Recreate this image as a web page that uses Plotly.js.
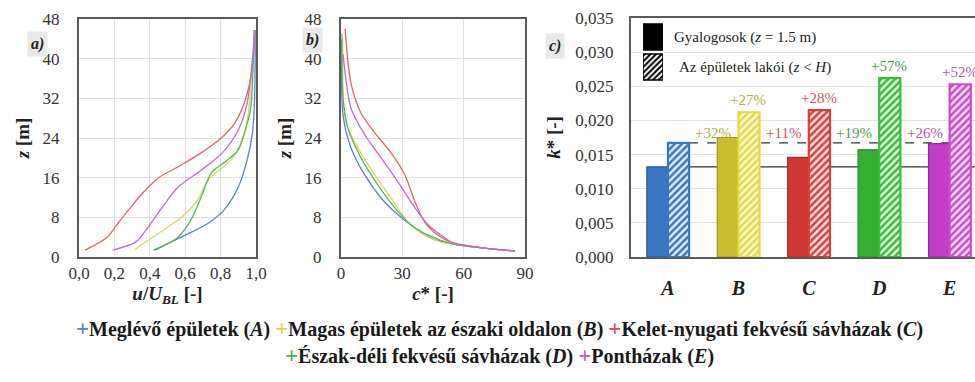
<!DOCTYPE html>
<html>
<head>
<meta charset="utf-8">
<script src="https://cdn.plot.ly/plotly-3.0.1.min.js"></script>
<style>html,body{margin:0;padding:0;background:#fff;}#chart{width:975px;height:382px;}</style>
</head>
<body>
<div id="chart"></div>
<script>
// ---------- DATA ----------
const seriesKeys = ['A', 'B', 'C', 'D', 'E'];
const seriesNames = ['Meglévő épületek', 'Magas épületek az északi oldalon', 'Kelet-nyugati fekvésű sávházak', 'Észak-déli fekvésű sávházak', 'Pontházak'];

// panel a) u/U_BL [-] vs z [m]
const uA = [0.43, 0.60, 0.73, 0.82, 0.90, 0.95, 0.98, 0.99, 0.995, 0.995];
const zuA = [1.4, 4.4, 6.8, 9.5, 14.1, 19.6, 25, 30, 38.4, 45.8];
const uB = [0.31, 0.45, 0.58, 0.67, 0.73, 0.79, 0.86, 0.92, 0.95, 0.97, 0.99];
const zuB = [1.4, 4.8, 8, 11.5, 15.5, 17.5, 19.6, 23.6, 27.6, 33.7, 45.8];
const uC = [0.034, 0.16, 0.22, 0.28, 0.36, 0.45, 0.56, 0.69, 0.81, 0.88, 0.94, 0.98, 0.995];
const zuC = [1.4, 4, 6.8, 9.5, 12.9, 16, 18.2, 21, 24.2, 27, 31.7, 38.4, 45.8];
const uD = [0.42, 0.56, 0.64, 0.69, 0.75, 0.82, 0.90, 0.94, 0.97, 0.98, 0.99];
const zuD = [1.4, 4, 8, 12.1, 17.1, 19, 21.6, 25.6, 30, 35, 45.8];
const uE = [0.19, 0.32, 0.39, 0.47, 0.56, 0.69, 0.81, 0.90, 0.95, 0.97, 0.995];
const zuE = [1.4, 3, 6, 10, 14.1, 17.5, 21, 25.6, 31, 36.4, 45.8];

// panel b) c* [-] vs z [m]
const cA = [85, 70, 55, 44, 36.2, 27.9, 19.6, 11.7, 4.9, 1, 0.4];
const zcA = [1.2, 1.8, 2.6, 3.8, 5.8, 8.5, 11.9, 16.5, 22, 28.6, 44];
const cB = [85, 70, 55, 48.9, 41, 32.8, 24.5, 16.6, 8.3, 2.4, 0.8];
const zcB = [1.2, 1.8, 2.6, 3, 4.4, 7, 11.9, 16.5, 22, 27.2, 44];
const cC = [85, 70, 53.8, 47.5, 41, 36.2, 31.3, 24.5, 16.6, 9.8, 4.9, 2];
const zcC = [1.2, 1.8, 3, 4.4, 7, 11.1, 16.5, 21, 25, 29, 35, 46];
const cD = [85, 70, 55, 42.6, 34.2, 26.4, 18.1, 9.8, 3.4, 1, 0.5];
const zcD = [1.2, 1.8, 2.6, 4.4, 6.5, 9.9, 14.5, 20, 26, 32, 45];
const cE = [85, 70, 55, 50.9, 42.6, 36.2, 27.9, 19.6, 11.7, 4.9, 1];
const zcE = [1.2, 1.8, 2.8, 3.8, 6.5, 9.9, 15.1, 20, 24.6, 30, 41];

// panel c) k* [-]
const kPedestrian = [0.0132, 0.0175, 0.0146, 0.0157, 0.0166];
const kResidents = [0.0167, 0.0212, 0.0215, 0.0262, 0.0253];
const pctPedestrian = ['', '+32%', '+11%', '+19%', '+26%'];
const pctResidents = ['', '+27%', '+28%', '+57%', '+52%'];
const legendKeys = ['Gyalogosok (<i>z</i> = 1.5 m)', 'Az épületek lakói (<i>z</i> &lt; <i>H</i>)'];

// ---------- STYLE ----------
const lineColors = ['#5b82d4', '#dcd860', '#e06868', '#58b858', '#c868d0'];
const plusColors = ['#5b7fcc', '#e2d44a', '#e04858', '#44b044', '#c458cc'];
const barColors = ['#3a76c4', '#c8bd2c', '#cf3636', '#34b034', '#c23dc6'];
const barEdge = ['#2a5894', '#9e9620', '#a02828', '#23862a', '#962c9a'];
const hatchColors = ['#3a76c4', '#e3da46', '#dd3c3c', '#3cbc3c', '#cc48d0'];
const hatchBg = ['#e2ecf9', '#fbf8d4', '#fbe2e2', '#e0f6e0', '#f7e2f8'];
const pctColors = ['#888', '#b5ad3c', '#c85a5a', '#4e9e4e', '#a85ab4'];
const SERIF = 'Liberation Serif';

const uData = [[uA, zuA], [uB, zuB], [uC, zuC], [uD, zuD], [uE, zuE]];
const cData = [[cA, zcA], [cB, zcB], [cC, zcC], [cD, zcD], [cE, zcE]];

const traces = [];
uData.forEach((d, i) => traces.push({
  type: 'scatter', mode: 'lines', x: d[0], y: d[1], xaxis: 'x', yaxis: 'y',
  name: seriesNames[i], line: {color: lineColors[i], width: 1.3, shape: 'spline', smoothing: 0.8}
}));
cData.forEach((d, i) => traces.push({
  type: 'scatter', mode: 'lines', x: d[0], y: d[1], xaxis: 'x2', yaxis: 'y2',
  name: seriesNames[i], line: {color: lineColors[i], width: 1.3, shape: 'spline', smoothing: 0.8}
}));
seriesKeys.forEach((k, i) => {
  traces.push({
    type: 'bar', x: [k], y: [kPedestrian[i]], xaxis: 'x3', yaxis: 'y3', name: 'Gyalogosok', offsetgroup: 'ped',
    marker: {color: barColors[i], line: {color: barEdge[i], width: 1.2}}
  });
  traces.push({
    type: 'bar', x: [k], y: [kResidents[i]], xaxis: 'x3', yaxis: 'y3', name: 'Az épületek lakói', offsetgroup: 'res',
    marker: {color: hatchBg[i], line: {color: hatchColors[i], width: 2.2},
      pattern: {shape: '/', fgcolor: hatchColors[i], bgcolor: hatchBg[i], size: 5, solidity: 0.5}}
  });
});
// legend keys of panel c
traces.push({
  type: 'bar', orientation: 'h', y: [legendKeys[0]], x: [1], xaxis: 'x4', yaxis: 'y4', width: 0.87, offsetgroup: 'k',
  marker: {color: '#000', line: {color: '#000', width: 1.5}}
});
traces.push({
  type: 'bar', orientation: 'h', y: [legendKeys[1]], x: [1], xaxis: 'x4', yaxis: 'y4', width: 0.87, offsetgroup: 'k',
  marker: {color: '#fff', line: {color: '#000', width: 1.5},
    pattern: {shape: '/', fgcolor: '#000', bgcolor: '#fff', size: 4, solidity: 0.5}}
});

const gridC = '#e2e2e2', frameC = '#5a5a5a';
function baseAxis(extra) {
  return Object.assign({
    showgrid: true, gridcolor: gridC, gridwidth: 1, zeroline: false,
    showline: true, mirror: true, linecolor: frameC, linewidth: 2,
    ticks: '', tickfont: {family: SERIF, size: 17, color: '#333'}
  }, extra);
}
const titleFont = {family: SERIF, size: 19, color: '#222'};

const annotations = [];
seriesKeys.forEach((k, i) => {
  if (pctPedestrian[i]) annotations.push({
    xref: 'x3', yref: 'y3', x: k, y: kResidents[0], text: pctPedestrian[i], showarrow: false,
    xshift: -25, yanchor: 'bottom', yshift: 0, font: {family: SERIF, size: 15, color: pctColors[i]}
  });
  if (pctResidents[i]) annotations.push({
    xref: 'x3', yref: 'y3', x: k, y: kResidents[i], text: pctResidents[i], showarrow: false,
    xshift: 10, yanchor: 'bottom', yshift: 2, font: {family: SERIF, size: 15, color: pctColors[i]}
  });
});
legendKeys.forEach((t, i) => annotations.push({
  xref: 'paper', yref: 'y4', x: 672 / 975, y: t, xanchor: 'left', text: t, showarrow: false,
  xshift: i === 1 ? 5 : 0, font: {family: SERIF, size: 15, color: '#222'}
}));
[['a)', 27, 31], ['b)', 302, 27], ['c)', 555, 33]].forEach(p => annotations.push({
  xref: 'paper', yref: 'paper', x: p[1] / 975, y: 1 - p[2] / 382, text: '<b><i>' + p[0] + '</i></b>',
  showarrow: false, bgcolor: '#e9e9e9', borderpad: 3, font: {family: SERIF, size: 16, color: '#222'}
}));
// bottom series legend, two rows
const items = seriesKeys.map((k, i) => '<span style="color:' + plusColors[i] + ';font-size:23px">+</span>' +
  seriesNames[i] + ' (<i>' + k + '</i>)');
[[items.slice(0, 3), 328], [items.slice(3), 355]].forEach(r => annotations.push({
  xref: 'paper', yref: 'paper', x: 500 / 975, y: 1 - r[1] / 382, xanchor: 'center', yanchor: 'middle',
  text: '<b>' + r[0].join(' ') + '</b>', showarrow: false, borderpad: 0,
  font: {family: SERIF, size: 20, color: '#1a1a1a'}
}));

const layout = {
  width: 975, height: 382, margin: {l: 0, r: 0, t: 0, b: 0},
  paper_bgcolor: '#fff', plot_bgcolor: '#fff', separators: ',.', showlegend: false,
  font: {family: SERIF, size: 15, color: '#333'},
  barmode: 'group', bargap: 0.4, bargroupgap: 0,
  xaxis: baseAxis({domain: [79 / 975, 256 / 975], range: [0, 1], dtick: 0.2, tickformat: '.1f', anchor: 'y',
    title: {text: '<b><i>u</i>/<i>U</i><sub><i>BL</i></sub> [-]</b>', font: titleFont, standoff: 4}}),
  yaxis: baseAxis({domain: [125 / 382, 363 / 382], range: [0, 48], dtick: 8, anchor: 'x', ticklabelstandoff: 14,
    title: {text: '<b><i>z</i> [m]</b>', font: titleFont, standoff: 8}}),
  xaxis2: baseAxis({domain: [341 / 975, 525 / 975], range: [0, 90], dtick: 30, anchor: 'y2',
    title: {text: '<b><i>c</i>* [-]</b>', font: titleFont, standoff: 4}}),
  yaxis2: baseAxis({domain: [125 / 382, 363 / 382], range: [0, 48], dtick: 8, anchor: 'x2', ticklabelstandoff: 14,
    title: {text: '<b><i>z</i> [m]</b>', font: titleFont, standoff: 8}}),
  xaxis3: baseAxis({domain: [631 / 975, 1], type: 'category', range: [-0.525, 4.36], anchor: 'y3', showgrid: false,
    tickvals: seriesKeys, ticktext: seriesKeys.map(k => '<b><i>' + k + '</i></b>'),
    tickfont: {family: SERIF, size: 20, color: '#222'}, ticklabelstandoff: 12}),
  yaxis3: baseAxis({domain: [125 / 382, 364 / 382], range: [0, 0.035], dtick: 0.005, tickformat: '.3f', anchor: 'x3',
    ticklabelstandoff: 12, title: {text: '<b><i>k</i>* [-]</b>', font: titleFont, standoff: 10}}),
  xaxis4: {domain: [643 / 975, 663 / 975], range: [0, 1], visible: false, fixedrange: true, anchor: 'y4'},
  yaxis4: {domain: [300 / 382, 360 / 382], type: 'category', range: [1.5, -0.5], visible: false, anchor: 'x4'},
  shapes: [
    {type: 'line', xref: 'x3', yref: 'y3', x0: 0.3, x1: 4.5, y0: kPedestrian[0], y1: kPedestrian[0],
      layer: 'between', line: {color: '#333', width: 1.3}},
    {type: 'line', xref: 'x3', yref: 'y3', x0: 0.3, x1: 4.5, y0: kResidents[0], y1: kResidents[0],
      layer: 'between', line: {color: '#333', width: 1.3, dash: 'dash'}}
  ],
  annotations: annotations
};

Plotly.newPlot('chart', traces, layout, {displayModeBar: false});
</script>
</body>
</html>
